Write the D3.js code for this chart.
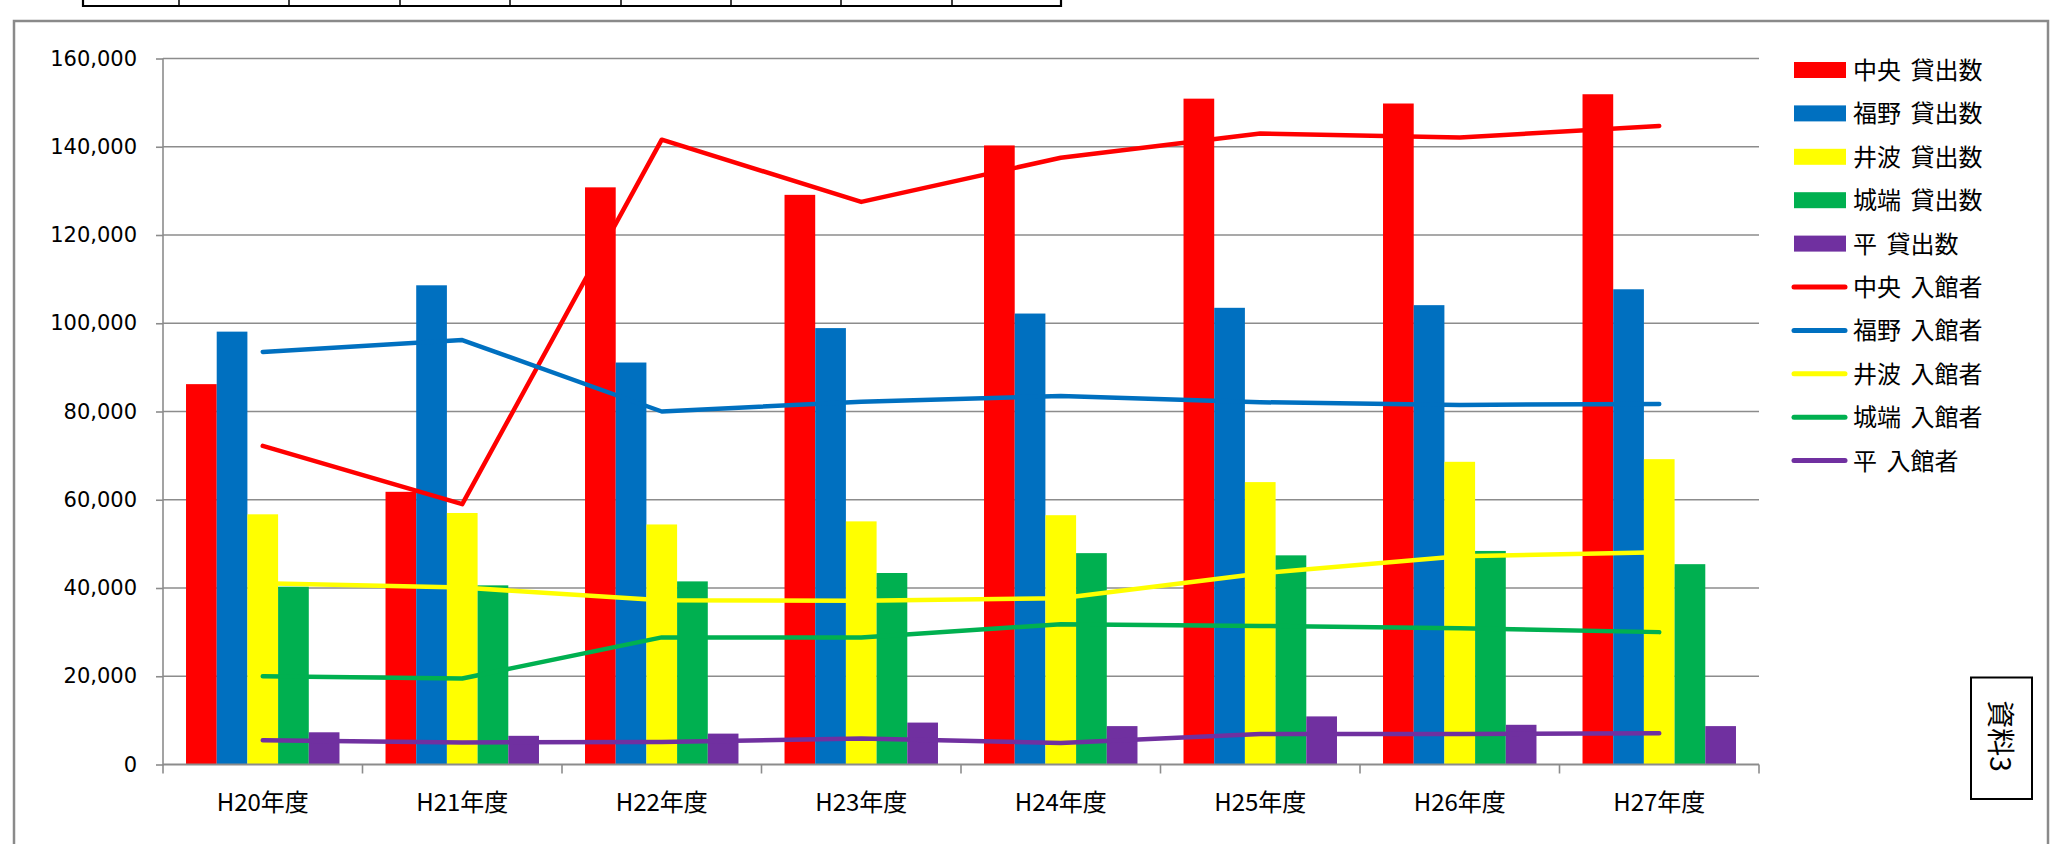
<!DOCTYPE html>
<html>
<head>
<meta charset="utf-8">
<script src="https://cdn.jsdelivr.net/npm/d3@7"></script>
<style>
  html, body { margin: 0; padding: 0; background: #fff; }
  svg { display: block; }
</style>
</head>
<body>
<svg id="chart" width="2054" height="844"></svg>
<script>
// ---------------- DATA ----------------
const categories = ["H20年度","H21年度","H22年度","H23年度","H24年度","H25年度","H26年度","H27年度"];

const loanNames  = ["中央 貸出数","福野 貸出数","井波 貸出数","城端 貸出数","平 貸出数"];
const visitNames = ["中央 入館者","福野 入館者","井波 入館者","城端 入館者","平 入館者"];

const chuoLoans   = [86200, 61800, 130800, 129100, 140300, 150900, 149800, 151900];
const fukunoLoans = [98100, 108600, 91100, 98900, 102200, 103500, 104100, 107700];
const inamiLoans  = [56700, 57000, 54400, 55100, 56500, 64000, 68600, 69200];
const johanaLoans = [40300, 40600, 41500, 43400, 47900, 47400, 48400, 45400];
const tairaLoans  = [7300, 6500, 7000, 9500, 8700, 10900, 9000, 8700];

const chuoVisits   = [72200, 59000, 141600, 127500, 137500, 143000, 142100, 144700];
const fukunoVisits = [93500, 96200, 80000, 82200, 83500, 82100, 81500, 81700];
const inamiVisits  = [41100, 40100, 37200, 37100, 37700, 43300, 47200, 48100];
const johanaVisits = [20000, 19500, 28800, 28800, 31800, 31400, 30900, 30000];
const tairaVisits  = [5500, 5000, 5100, 5900, 4900, 6900, 6900, 7100];

const yTicks = [0, 20000, 40000, 60000, 80000, 100000, 120000, 140000, 160000];
const stampText = "資料3";

// ---------------- STYLE ----------------
const colors = ["#FF0000", "#0070C0", "#FFFF00", "#00B050", "#7030A0"];
const loanValues  = [chuoLoans, fukunoLoans, inamiLoans, johanaLoans, tairaLoans];
const visitValues = [chuoVisits, fukunoVisits, inamiVisits, johanaVisits, tairaVisits];

const svg = d3.select("#chart");
const gridColor = "#8c8c8c";

// top table fragment (decoration from the page)
const tableX = [83, 179, 289, 400, 510, 621, 731, 841, 952, 1061];
const tbl = svg.append("g");
tbl.append("line").attr("x1", 82).attr("x2", 1062).attr("y1", 6).attr("y2", 6)
  .attr("stroke", "#000").attr("stroke-width", 2);
tbl.selectAll("line.v").data(tableX).join("line").attr("class", "v")
  .attr("x1", d => d).attr("x2", d => d).attr("y1", -2).attr("y2", 7)
  .attr("stroke", "#000").attr("stroke-width", (d, i) => (i === 0 || i === tableX.length - 1) ? 2.2 : 1.5);

// chart frame
svg.append("rect").attr("x", 14).attr("y", 21).attr("width", 2034).attr("height", 840)
  .attr("fill", "none").attr("stroke", "#8a8a8a").attr("stroke-width", 2.5);

// scales
const plot = { left: 163, right: 1759, top: 58.5, bottom: 764.5 };
const x0 = d3.scaleBand().domain(categories).range([plot.left, plot.right]).padding(0);
const x1 = d3.scaleBand().domain(d3.range(loanNames.length)).range([0, x0.bandwidth()])
  .paddingInner(0).paddingOuter(0.75);
const y = d3.scaleLinear().domain([0, 160000]).range([plot.bottom, plot.top]);

// gridlines
svg.append("g").selectAll("line").data(yTicks.filter(d => d > 0)).join("line")
  .attr("x1", plot.left).attr("x2", plot.right)
  .attr("y1", d => y(d)).attr("y2", d => y(d))
  .attr("stroke", gridColor).attr("stroke-width", 1.6);

// y axis
const yAxis = svg.append("g").attr("transform", `translate(${plot.left},0)`)
  .call(d3.axisLeft(y).tickValues(yTicks).tickSize(7).tickPadding(19).tickFormat(d3.format(",")));
yAxis.select(".domain").attr("stroke", gridColor).attr("stroke-width", 1.6).attr("d", `M0,${plot.top}V${plot.bottom + 1}`);
yAxis.selectAll(".tick line").attr("stroke", gridColor).attr("stroke-width", 1.6);
yAxis.selectAll(".tick text")
  .attr("font-family", "'DejaVu Sans', Verdana, sans-serif")
  .attr("font-size", 21).attr("fill", "#000");

// bars
const barG = svg.append("g");
loanValues.forEach((vals, si) => {
  barG.append("g").selectAll("rect").data(vals).join("rect")
    .attr("x", (d, i) => x0(categories[i]) + x1(si))
    .attr("y", d => y(d))
    .attr("width", x1.bandwidth())
    .attr("height", d => y(0) - y(d))
    .attr("fill", colors[si]);
});

// x axis
const xAxisG = svg.append("g").attr("transform", `translate(0,${plot.bottom})`);
xAxisG.append("line").attr("x1", plot.left).attr("x2", plot.right).attr("y1", 0).attr("y2", 0)
  .attr("stroke", gridColor).attr("stroke-width", 1.8);
const boundaries = categories.map(c => x0(c)).concat([plot.right]);
xAxisG.selectAll("line.t").data(boundaries).join("line").attr("class", "t")
  .attr("x1", d => d).attr("x2", d => d).attr("y1", 0).attr("y2", 9)
  .attr("stroke", gridColor).attr("stroke-width", 1.6);
xAxisG.selectAll("text").data(categories).join("text")
  .attr("x", d => x0(d) + x0.bandwidth() / 2)
  .attr("y", 46)
  .attr("text-anchor", "middle")
  .attr("font-family", "'Noto Sans CJK JP', sans-serif")
  .attr("font-size", 24).attr("fill", "#000")
  .text(d => d);

// lines
const lineGen = d3.line()
  .x((d, i) => x0(categories[i]) + x0.bandwidth() / 2)
  .y(d => y(d));
visitValues.forEach((vals, si) => {
  svg.append("path").datum(vals)
    .attr("d", lineGen)
    .attr("fill", "none")
    .attr("stroke", colors[si])
    .attr("stroke-width", 4.5)
    .attr("stroke-linecap", "round")
    .attr("stroke-linejoin", "round");
});

// legend
const legendItems = loanNames.map((n, i) => ({ name: n, type: "bar", color: colors[i] }))
  .concat(visitNames.map((n, i) => ({ name: n, type: "line", color: colors[i] })));
const leg = svg.append("g");
const rowY = i => 70 + i * 43.4;
legendItems.forEach((it, i) => {
  const g = leg.append("g").attr("transform", `translate(0,${rowY(i)})`);
  if (it.type === "bar") {
    g.append("rect").attr("x", 1794).attr("y", -8).attr("width", 52).attr("height", 16).attr("fill", it.color);
  } else {
    g.append("line").attr("x1", 1794).attr("x2", 1845).attr("y1", 0).attr("y2", 0)
      .attr("stroke", it.color).attr("stroke-width", 5).attr("stroke-linecap", "round");
  }
  g.append("text").attr("x", 1853).attr("y", 9)
    .attr("font-family", "'Noto Sans CJK JP', sans-serif")
    .attr("font-size", 24).attr("word-spacing", 4).attr("fill", "#000")
    .text(it.name);
});

// stamp box
svg.append("rect").attr("x", 1971).attr("y", 677.5).attr("width", 61).attr("height", 121.5)
  .attr("fill", "#fff").attr("stroke", "#000").attr("stroke-width", 2);
svg.append("text")
  .attr("transform", "translate(2002,736) rotate(90)")
  .attr("text-anchor", "middle").attr("dominant-baseline", "central")
  .attr("font-family", "'Noto Sans CJK JP', sans-serif")
  .attr("font-size", 28).attr("fill", "#000")
  .text(stampText);
</script>
</body>
</html>
